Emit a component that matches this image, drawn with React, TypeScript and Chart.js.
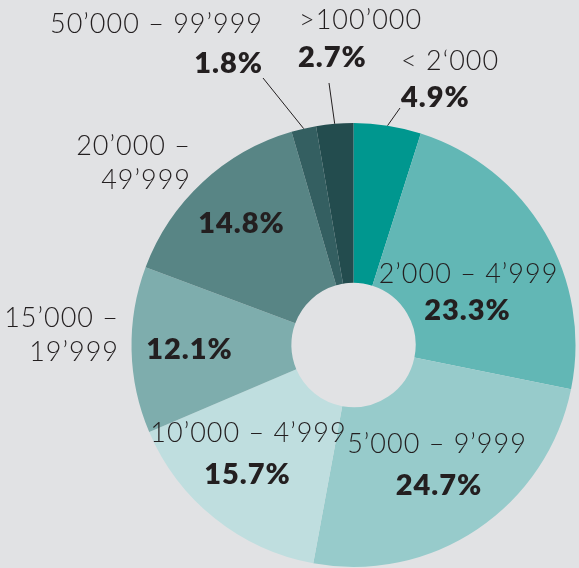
import React, { useEffect, useRef } from "react";
import { Chart, registerables } from "chart.js";

Chart.register(...registerables);

// ---- data ----
const categories = [
  "< 2‘000",
  "2’000 – 4’999",
  "5’000 – 9’999",
  "10’000 – 4’999",
  "15’000 – 19’999",
  "20’000 – 49’999",
  "50’000 – 99’999",
  ">100’000",
];
const shares = [4.9, 23.3, 24.7, 15.7, 12.1, 14.8, 1.8, 2.7];
const sliceColors = [
  "#00978f",
  "#62b7b5",
  "#97cbcb",
  "#bfdedf",
  "#7eadad",
  "#588585",
  "#345f61",
  "#234c4e",
];

const BG = "#e1e2e4";
const TEXT = "#231f20";
const FONT = "Lato, 'Open Sans', sans-serif";

// label layout (positions only)
type Lab = {
  lines: string[];
  x: number;
  y: number;
  align: CanvasTextAlign;
  px: number;
  py: number;
  palign: CanvasTextAlign;
  leader?: [number, number];
};
const labelLayout: Lab[] = [
  { lines: [categories[0]], x: 401, y: 70, align: "left", px: 401, py: 107, palign: "left", leader: [400, 108] },
  { lines: [categories[1]], x: 468.5, y: 283, align: "center", px: 467.5, py: 320, palign: "center" },
  { lines: [categories[2]], x: 437, y: 453, align: "center", px: 439, py: 495, palign: "center" },
  { lines: [categories[3]], x: 248.5, y: 442, align: "center", px: 247.5, py: 484, palign: "center" },
  { lines: ["15’000 –", "19’999"], x: 119, y: 327, align: "right", px: 189.5, py: 359, palign: "center" },
  { lines: ["20’000 –", "49’999"], x: 191, y: 155, align: "right", px: 241.5, py: 233, palign: "center" },
  { lines: [categories[6]], x: 263, y: 33, align: "right", px: 263, py: 73, palign: "right", leader: [263, 78] },
  { lines: [categories[7]], x: 299, y: 29, align: "left", px: 298, py: 67, palign: "left", leader: [329, 83] },
];

const labelPlugin = {
  id: "sliceLabels",
  afterDraw(chart: any) {
    const ctx = chart.ctx as any;
    const meta = chart.getDatasetMeta(0);
    ctx.save();
    labelLayout.forEach((L, i) => {
      ctx.fillStyle = TEXT;
      ctx.textBaseline = "alphabetic";
      ctx.font = `300 27px ${FONT}`;
      ctx.letterSpacing = "1px";
      ctx.textAlign = L.align;
      L.lines.forEach((t, k) => ctx.fillText(t, L.x, L.y + k * 34));
      ctx.font = `800 29px ${FONT}`;
      ctx.letterSpacing = "1px";
      ctx.textAlign = L.palign;
      ctx.fillText(shares[i].toFixed(1) + "%", L.px, L.py);
      if (L.leader) {
        const arc = meta.data[i];
        const p = arc.getProps(["x", "y", "startAngle", "endAngle", "outerRadius"], true);
        const a = (p.startAngle + p.endAngle) / 2;
        ctx.strokeStyle = TEXT;
        ctx.lineWidth = 1;
        ctx.beginPath();
        ctx.moveTo(L.leader[0], L.leader[1]);
        ctx.lineTo(p.x + Math.cos(a) * p.outerRadius, p.y + Math.sin(a) * p.outerRadius);
        ctx.stroke();
      }
    });
    ctx.restore();
  },
};

export default function App() {
  const ref = useRef<HTMLCanvasElement | null>(null);
  useEffect(() => {
    document.body.style.margin = "0";
    document.body.style.background = BG;
    const chart = new Chart(ref.current as HTMLCanvasElement, {
      type: "doughnut",
      data: {
        labels: categories,
        datasets: [
          {
            data: shares,
            backgroundColor: sliceColors,
            borderWidth: 0,
            hoverOffset: 0,
          },
        ],
      },
      options: {
        responsive: false,
        animation: false,
        devicePixelRatio: 1,
        cutout: "28%",
        layout: { padding: { left: 131.5, right: 3.5, top: 123, bottom: 1 } },
        plugins: {
          legend: { display: false },
          tooltip: { enabled: false },
        },
      },
      plugins: [labelPlugin],
    });
    return () => chart.destroy();
  }, []);
  return (
    <div style={{ position: "absolute", left: 0, top: 0, width: 579, height: 568, background: BG }}>
      <canvas ref={ref} width={579} height={568} />
    </div>
  );
}
